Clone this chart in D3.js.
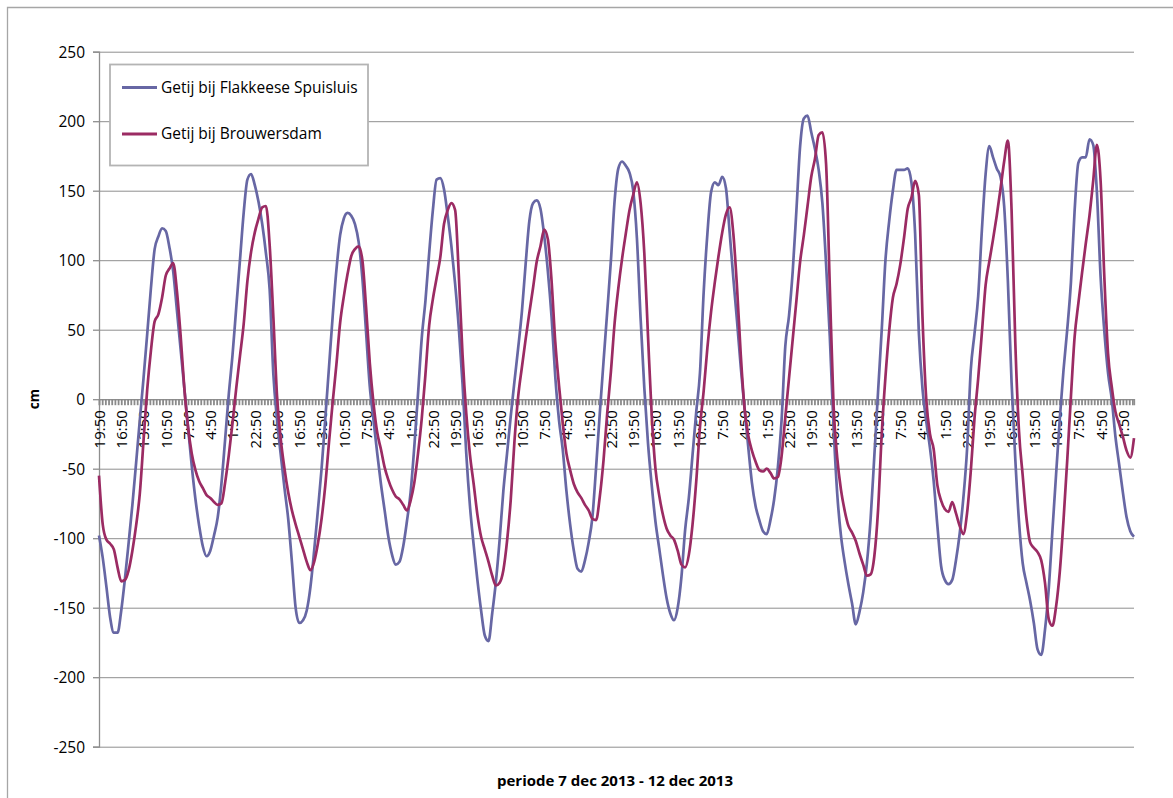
<!DOCTYPE html>
<html>
<head>
<meta charset="utf-8">
<script src="https://cdn.jsdelivr.net/npm/d3@7"></script>
<style>
  html, body { margin: 0; padding: 0; background: #fff; }
  svg { display: block; }
  text { font-family: "Open Sans", "Noto Sans", sans-serif; fill: #000; }
</style>
</head>
<body>
<svg id="chart" width="1173" height="798"></svg>
<script>
// Water level (cm) every half hour, 7 dec 2013 - 12 dec 2013
const seriesFlakkee = [
  -98,-114,-135,-157,-168,-168,-152,-129,-103,-76,-46,-15,15,47,80,108,117,123,121,109,
  92,64,36,8,-20,-48,-72,-91,-106,-113,-109,-98,-85,-61,-29,4,32,66,100,134,
  158,162,154,142,126,105,79,18,-15,-40,-64,-86,-117,-150,-161,-159,-152,-135,-109,-80,
  -50,-14,23,60,93,118,130,134,132,126,113,87,48,9,-15,-39,-61,-80,-99,-112,
  -119,-117,-106,-88,-67,-34,4,44,71,105,136,158,159,151,132,110,83,51,11,-39,
  -77,-105,-130,-152,-170,-174,-154,-131,-101,-66,-39,-12,13,37,63,97,128,141,143,137,
  118,92,59,16,-15,-36,-66,-90,-109,-122,-124,-116,-103,-85,-49,-10,27,63,100,143,
  166,171,168,163,150,116,58,8,-32,-62,-88,-107,-126,-143,-154,-159,-150,-128,-94,-71,
  -40,-9,19,77,119,149,156,154,160,152,120,87,56,23,-6,-34,-60,-77,-87,-95,
  -97,-87,-72,-49,-15,38,60,92,136,182,202,204,192,180,165,141,97,45,-19,-68,
  -98,-117,-133,-147,-162,-153,-139,-118,-86,-41,5,50,100,128,150,165,165,165,166,156,
  119,48,7,-16,-35,-59,-91,-120,-130,-133,-130,-116,-97,-71,-36,21,47,74,122,162,
  182,174,166,160,139,85,12,-43,-88,-118,-132,-145,-161,-180,-184,-166,-137,-95,-54,-14,
  21,50,84,136,170,174,174,187,183,149,88,49,19,0,-27,-47,-67,-85,-95,-99
];
const seriesBrouwers = [
  -55,-90,-101,-104,-108,-121,-131,-130,-123,-109,-91,-68,-30,7,35,56,61,73,89,94,
  98,78,46,8,-20,-39,-51,-59,-64,-69,-71,-74,-76,-75,-60,-40,-17,8,31,54,
  85,106,120,130,138,139,111,59,2,-29,-50,-67,-80,-90,-99,-108,-117,-123,-117,-104,
  -86,-62,-31,-2,25,55,74,90,103,108,110,100,66,26,-3,-24,-36,-49,-58,-65,
  -70,-72,-76,-80,-73,-60,-39,-14,18,53,72,87,102,126,136,141,136,89,32,-10,
  -40,-61,-83,-99,-108,-117,-127,-134,-132,-123,-102,-72,-30,2,23,43,62,80,99,110,
  122,115,85,41,10,-17,-39,-51,-61,-67,-71,-76,-80,-86,-87,-70,-44,-10,20,55,
  80,101,119,136,147,156,141,105,45,-12,-50,-69,-83,-93,-98,-101,-109,-119,-121,-112,
  -90,-59,-20,6,37,63,84,103,120,133,138,119,80,32,-6,-26,-37,-45,-51,-52,
  -50,-53,-57,-56,-41,-13,15,43,71,99,118,139,160,173,190,192,169,81,-4,-42,
  -65,-80,-91,-96,-102,-111,-119,-127,-126,-113,-80,-25,16,49,73,83,97,116,137,145,
  157,147,58,0,-25,-36,-62,-73,-79,-81,-74,-82,-91,-97,-82,-52,-14,15,48,82,
  99,115,132,151,171,186,136,41,-23,-55,-85,-103,-107,-110,-116,-132,-158,-163,-149,-124,
  -87,-44,2,45,69,91,112,132,157,183,157,88,33,9,-9,-18,-27,-37,-42,-28
];
const sampleStep = 0.5;          // hours between readings
const labelStep = 3;             // hours between category labels
const tickLabels = [
  "19:50","16:50","13:50","10:50","7:50","4:50","1:50","22:50",
  "19:50","16:50","13:50","10:50","7:50","4:50","1:50","22:50",
  "19:50","16:50","13:50","10:50","7:50","4:50","1:50","22:50",
  "19:50","16:50","13:50","10:50","7:50","4:50","1:50","22:50",
  "19:50","16:50","13:50","10:50","7:50","4:50","1:50","22:50",
  "19:50","16:50","13:50","10:50","7:50","4:50","1:50"
];
const yTicks = [-250, -200, -150, -100, -50, 0, 50, 100, 150, 200, 250];
const seriesNames = ["Getij bij Flakkeese Spuisluis", "Getij bij Brouwersdam"];
const seriesColors = ["#6767a4", "#9b2b63"];

const svg = d3.select("#chart");
const W = 1173, H = 798;
const plotLeft = 99, plotRight = 1134, plotTop = 51.7, plotBottom = 746.7;

svg.append("rect").attr("width", W).attr("height", H).attr("fill", "#fff");
// chart frame
svg.append("path")
  .attr("d", `M7.5,${H} V7.5 H${W}`)
  .attr("fill", "none").attr("stroke", "#a6a6a6").attr("stroke-width", 1.3);

const lastHour = (seriesFlakkee.length - 1) * sampleStep;
const x = d3.scaleLinear().domain([0, lastHour]).range([plotLeft, plotRight]);
const y = d3.scaleLinear().domain([-250, 250]).range([plotBottom, plotTop]);

// horizontal gridlines
svg.append("g")
  .attr("transform", `translate(${plotLeft},0)`)
  .call(d3.axisLeft(y).tickValues(yTicks).tickSize(-(plotRight - plotLeft)).tickFormat(""))
  .call(g => g.select(".domain").remove())
  .call(g => g.selectAll("line").attr("stroke", "#8e8e8e").attr("stroke-width", 1));

// value axis (plain hyphen for negatives)
const yAxis = svg.append("g")
  .attr("transform", `translate(${plotLeft},0)`)
  .call(d3.axisLeft(y).tickValues(yTicks).tickSize(6).tickPadding(8).tickFormat(d => String(d)));
yAxis.select(".domain").attr("stroke", "#8e8e8e").attr("stroke-width", 1.3);
yAxis.selectAll("line").attr("stroke", "#8e8e8e").attr("stroke-width", 1.3);
yAxis.selectAll("text")
  .attr("font-size", 15.5).attr("font-family", "Open Sans, sans-serif")
  .attr("fill", "#111").attr("dy", "0.35em");

// category axis at zero: dense tick marks
const minorTicks = d3.range(0, lastHour + 0.001, labelStep / 7);
const xAxis = svg.append("g")
  .attr("transform", `translate(0,${y(0)})`)
  .call(d3.axisBottom(x).tickValues(minorTicks).tickSize(6).tickFormat(""));
xAxis.select(".domain").attr("stroke", "#8e8e8e").attr("stroke-width", 1.3);
xAxis.selectAll("line").attr("stroke", "#8a8a8a").attr("stroke-width", 1.8);

// category labels, rotated
const labelHours = tickLabels.map((_, i) => i * labelStep);
const xLabels = svg.append("g")
  .attr("transform", `translate(0,${y(0)})`)
  .call(d3.axisBottom(x).tickValues(labelHours).tickSize(0)
    .tickFormat((d, i) => tickLabels[i]));
xLabels.select(".domain").remove();
xLabels.selectAll("text")
  .attr("font-size", 15).attr("font-family", "Open Sans, sans-serif")
  .attr("fill", "#111")
  .attr("text-anchor", "end")
  .attr("transform", "rotate(-90)")
  .attr("x", -11).attr("y", 0).attr("dy", "0.36em");

// tide lines
const line = d3.line()
  .x((d, i) => x(i * sampleStep))
  .y(d => y(d))
  .curve(d3.curveMonotoneX);

[seriesFlakkee, seriesBrouwers].forEach((s, k) => {
  svg.append("path")
    .datum(s)
    .attr("fill", "none")
    .attr("stroke", seriesColors[k])
    .attr("stroke-width", 2.7)
    .attr("stroke-linejoin", "round")
    .attr("d", line);
});

// legend
const lg = svg.append("g");
lg.append("rect")
  .attr("x", 110).attr("y", 64.5).attr("width", 258).attr("height", 101)
  .attr("fill", "#fff").attr("stroke", "#b4b4b4").attr("stroke-width", 1.8);
seriesNames.forEach((name, k) => {
  const ly = 87.5 + k * 46.5;
  lg.append("line")
    .attr("x1", 122).attr("x2", 157).attr("y1", ly).attr("y2", ly)
    .attr("stroke", seriesColors[k]).attr("stroke-width", 3.2);
  lg.append("text")
    .attr("x", 161).attr("y", ly).attr("dy", "0.35em")
    .attr("font-size", 15.5).attr("fill", "#111")
    .text(name);
});

// axis titles
svg.append("text")
  .attr("transform", `translate(39,${y(0)}) rotate(-90)`)
  .attr("text-anchor", "middle")
  .attr("font-size", 13.5).attr("font-weight", "bold")
  .text("cm");

svg.append("text")
  .attr("x", 615).attr("y", 786)
  .attr("text-anchor", "middle")
  .attr("font-size", 15).attr("font-weight", "bold")
  .text("periode 7 dec 2013 - 12 dec 2013");
</script>
</body>
</html>
